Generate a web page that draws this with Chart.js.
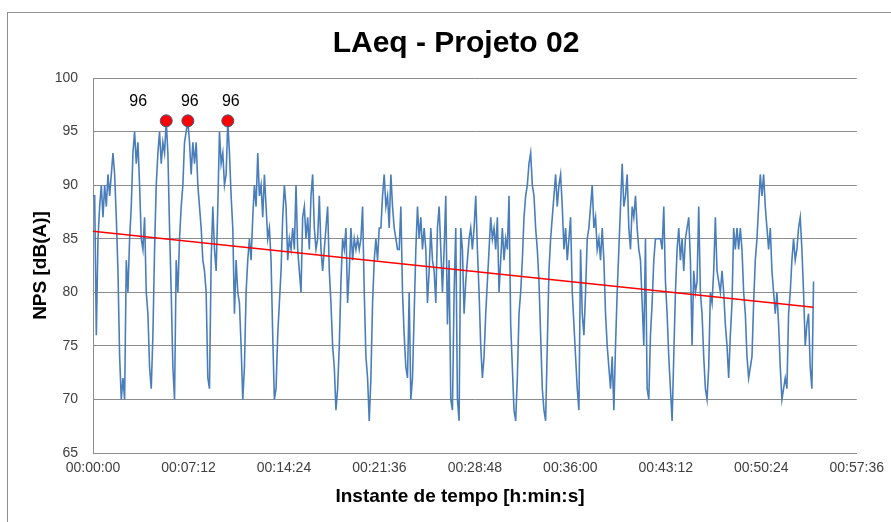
<!DOCTYPE html>
<html>
<head>
<meta charset="utf-8">
<script src="https://cdn.jsdelivr.net/npm/chart.js@4.4.0/dist/chart.umd.min.js"></script>
<style>
  html, body { margin: 0; padding: 0; background: #fff; }
  #wrap { position: relative; width: 891px; height: 522px; overflow: hidden; }
  #grafico { position: absolute; left: 0; top: 0; }
  #moldura { position: absolute; left: 7px; top: 12px; width: 1000px; height: 1000px;
             border: 1px solid #8e8e8e; pointer-events: none; }
</style>
</head>
<body>
<div id="wrap">
  <canvas id="grafico" width="891" height="522"></canvas>
  <div id="moldura"></div>
</div>
<script>
// LAeq lido a cada ~7,5 s
const passoSeg = 7.53;
const laeq = [
  89, 89, 76, 85, 88, 90, 87, 90, 88, 91,
  89, 91, 93, 91, 87, 82, 74, 70, 72, 70,
  83, 80, 85, 88, 93, 95, 92, 94, 90, 85,
  84, 87, 80, 78, 73, 71, 76, 84, 90, 93,
  95, 92, 94, 93, 96, 93, 86, 80, 73, 70,
  83, 80, 85, 88, 90, 94, 95, 96, 94, 91,
  94, 92, 94, 90, 88, 86, 83, 82, 80, 72,
  71, 83, 88, 84, 82, 88, 95, 92, 93, 90,
  91, 96, 93, 89, 86, 78, 83, 80, 79, 75,
  70, 73, 80, 83, 85, 83, 87, 90, 88, 93,
  89, 90, 87, 91, 88, 85, 86, 83, 76, 70,
  71, 76, 79, 82, 87, 90, 88, 83, 85, 84,
  86, 84, 90, 84, 82, 80, 87, 88, 85, 87,
  84, 89, 91, 86, 84, 85, 89, 84, 82, 84,
  86, 88, 82, 79, 75, 73, 69, 71, 75, 81,
  85, 84, 86, 79, 82, 86, 83, 85, 84, 85,
  84, 85, 88, 80, 74, 72, 68, 72, 79, 83,
  85, 83, 86, 86, 89, 91, 88, 89, 86, 91,
  88, 86, 85, 84, 84, 88, 80, 76, 73, 72,
  80, 70, 72, 78, 84, 88, 85, 87, 84, 86,
  84, 79, 82, 86, 83, 82, 79, 86, 88, 84,
  80, 84, 89, 77, 83, 70, 69, 80, 86, 70,
  68, 86, 84, 78, 81, 83, 85, 86, 84, 86,
  89, 84, 80, 75, 72, 74, 78, 81, 84, 87,
  85, 86, 84, 87, 80, 83, 86, 83, 85, 84,
  89, 77, 73, 69, 68, 72, 78, 80, 83, 87,
  89, 90, 92, 93, 90, 89, 86, 84, 81, 76,
  71, 69, 68, 75, 82, 85, 87, 89, 91, 88,
  90, 91, 88, 84, 86, 83, 85, 87, 80, 77,
  74, 71, 69, 84, 78, 76, 80, 85, 86, 88,
  90, 86, 87, 84, 85, 83, 86, 83, 78, 75,
  73, 71, 74, 69, 75, 80, 84, 88, 92, 88,
  89, 91, 86, 84, 88, 87, 89, 86, 84, 83,
  79, 75, 85, 71, 70, 76, 79, 83, 85, 85,
  85, 85, 84, 88, 81, 78, 74, 71, 68, 74,
  80, 84, 86, 83, 85, 82, 85, 86, 87, 83,
  75, 82, 80, 81, 88, 80, 78, 74, 71, 70,
  73, 80, 79, 82, 87, 82, 81, 80, 82, 80,
  77, 75, 72, 76, 79, 86, 84, 86, 84, 86,
  84, 80, 78, 74, 72, 73, 74, 79, 83, 85,
  88, 91, 89, 91, 88, 86, 84, 86, 82, 80,
  78, 80, 77, 73, 70, 71, 72, 71, 78, 80,
  83, 85, 83, 84, 86, 87, 84, 80, 75, 77,
  78, 73, 71, 81
];

// linha de tendencia (extremos)
const tendenciaSeg = [0, 3260];
const tendenciaDb = [85.7, 78.6];

const ticksX = [0, 432, 864, 1296, 1728, 2160, 2592, 3024, 3456];
const ticksY = [65, 70, 75, 80, 85, 90, 95, 100];

const tituloGrafico = "LAeq - Projeto 02";
const tituloX = "Instante de tempo [h:min:s]";
const tituloY = "NPS [dB(A)]";

const fonte = '"Liberation Sans", Arial, sans-serif';
// deslocamento horizontal dos rotulos de pico (px), como no original
const deslocRotulo = [-28, 2, 3];

function hms(s) {
  const h = Math.floor(s / 3600);
  const m = Math.floor((s % 3600) / 60);
  const ss = Math.round(s % 60);
  return [h, m, ss].map(n => String(n).padStart(2, "0")).join(":");
}

const serie = laeq.map((v, i) => ({ x: i * passoSeg, y: v }));
const maximo = Math.max(...laeq);
const picos = serie.filter(p => p.y === maximo);
const tendencia = tendenciaSeg.map((t, i) => ({ x: t, y: tendenciaDb[i] }));

const rotulos = {
  id: "rotulos",
  afterDatasetsDraw(chart) {
    const ctx = chart.ctx;
    const meta = chart.getDatasetMeta(0);
    ctx.save();
    ctx.fillStyle = "#000";
    ctx.textAlign = "center";
    ctx.textBaseline = "middle";
    ctx.font = "16px " + fonte;
    meta.data.forEach((pt, i) => {
      ctx.fillText(String(picos[i].y), pt.x + (deslocRotulo[i] || 0), pt.y - 19);
    });
    ctx.restore();
  },
  afterDraw(chart) {
    const ctx = chart.ctx;
    ctx.save();
    ctx.fillStyle = "#000";
    ctx.textAlign = "center";
    ctx.textBaseline = "middle";
    ctx.font = "bold 30px " + fonte;
    ctx.fillText(tituloGrafico, 456, 44);
    ctx.font = "bold 19px " + fonte;
    ctx.fillText(tituloX, 460, 497);
    ctx.restore();
  }
};

const ctx = document.getElementById("grafico").getContext("2d");
new Chart(ctx, {
  type: "line",
  data: {
    datasets: [
      {
        data: picos,
        showLine: false,
        pointRadius: 6,
        pointBackgroundColor: "#ff0000",
        pointBorderColor: "#3c5d8c",
        pointBorderWidth: 1
      },
      {
        data: tendencia,
        borderColor: "#ff0000",
        borderWidth: 1.5,
        pointRadius: 0,
        fill: false
      },
      {
        data: serie,
        borderColor: "#4a7ebb",
        borderWidth: 1.6,
        pointRadius: 0,
        tension: 0,
        fill: false
      }
    ]
  },
  options: {
    responsive: false,
    animation: false,
    devicePixelRatio: 1,
    layout: { padding: { left: 0, right: 33, top: 78, bottom: 0 } },
    plugins: {
      legend: { display: false },
      tooltip: { enabled: false },
      title: { display: false }
    },
    scales: {
      x: {
        type: "linear",
        min: 0,
        max: 3456,
        afterBuildTicks: s => { s.ticks = ticksX.map(v => ({ value: v })); },
        afterFit: s => { s.height = 69; },
        grid: { display: false, drawTicks: false },
        border: { display: true, color: "#8c8c8c", width: 1 },
        ticks: {
          autoSkip: false,
          maxRotation: 0,
          padding: 7,
          color: "#404040",
          font: { family: fonte, size: 14 },
          callback: v => hms(v)
        }
      },
      y: {
        min: 65,
        max: 100,
        afterBuildTicks: s => { s.ticks = ticksY.map(v => ({ value: v })); },
        afterFit: s => { s.width = 93; },
        grid: { color: "#8c8c8c", lineWidth: 1, drawTicks: false },
        border: { display: true, color: "#8c8c8c", width: 1 },
        ticks: {
          padding: 15,
          color: "#404040",
          font: { family: fonte, size: 14 }
        },
        title: {
          display: true,
          text: tituloY,
          color: "#000",
          font: { family: fonte, size: 19, weight: "bold" },
          padding: { top: 29, bottom: 0 }
        }
      }
    }
  },
  plugins: [rotulos]
});
</script>
</body>
</html>
